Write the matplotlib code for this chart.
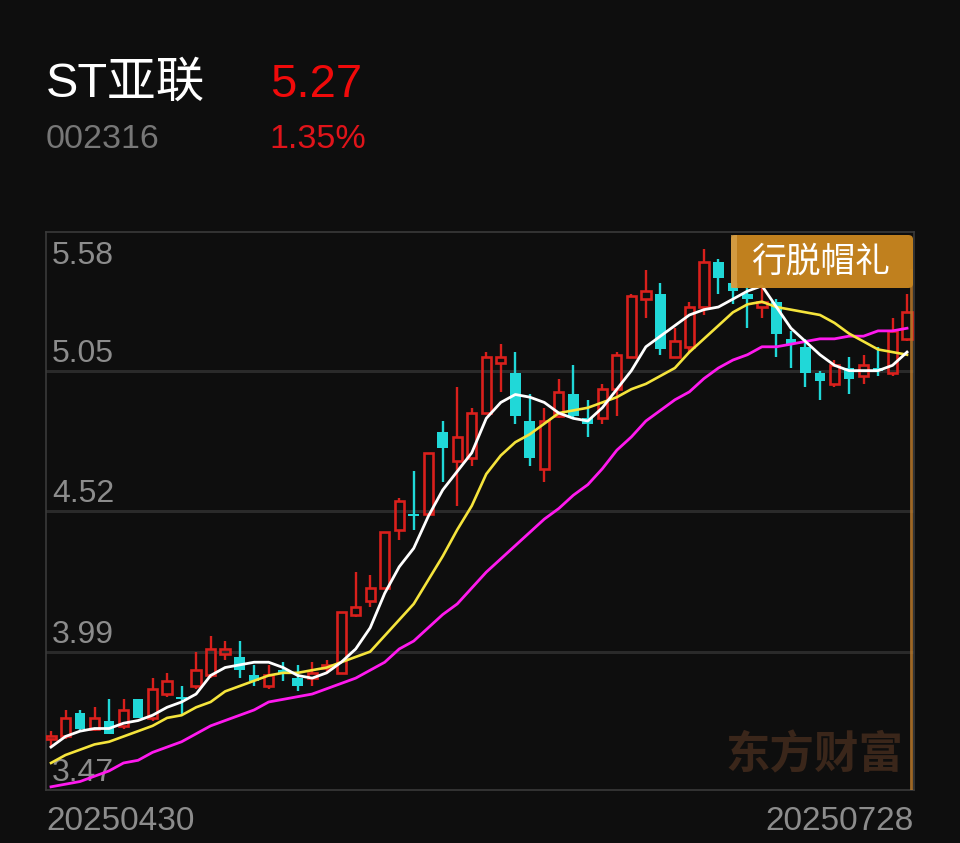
import matplotlib.pyplot as plt
from matplotlib.patches import FancyBboxPatch, Rectangle

name = "ST亚联"
code = "002316"
last_price = "5.27"
pct_change = "1.35%"
tag = "行脱帽礼"
watermark = "东方财富"
start_date = "20250430"
end_date = "20250728"
y_labels = ["5.58", "5.05", "4.52", "3.99", "3.47"]
grid_levels = [5.05, 4.52, 3.99]

# daily candles 2025-04-30 .. 2025-07-28
opens = [3.66, 3.67, 3.76, 3.70, 3.73, 3.71, 3.81, 3.74, 3.83, 3.82,
         3.86, 3.90, 3.98, 3.97, 3.90, 3.86, 3.92, 3.89, 3.89, 3.93,
         3.91, 4.13, 4.18, 4.23, 4.45, 4.51, 4.51, 4.82, 4.71, 4.72,
         4.89, 5.08, 5.04, 4.86, 4.68, 4.88, 4.96, 4.87, 4.87, 4.98,
         5.10, 5.32, 5.34, 5.10, 5.14, 5.29, 5.46, 5.38, 5.34, 5.29,
         5.31, 5.17, 5.14, 5.04, 5.00, 5.06, 5.03, 5.06, 5.04, 5.17]
highs = [3.69, 3.77, 3.77, 3.78, 3.81, 3.81, 3.81, 3.89, 3.91, 3.86,
         3.99, 4.05, 4.03, 4.03, 3.94, 3.94, 3.95, 3.94, 3.95, 3.96,
         4.14, 4.29, 4.28, 4.44, 4.57, 4.67, 4.74, 4.86, 4.99, 4.91,
         5.12, 5.15, 5.12, 4.96, 4.91, 5.02, 5.07, 4.94, 5.00, 5.12,
         5.34, 5.43, 5.38, 5.21, 5.31, 5.51, 5.47, 5.43, 5.37, 5.37,
         5.32, 5.20, 5.17, 5.05, 5.09, 5.10, 5.11, 5.14, 5.25, 5.34]
lows = [3.63, 3.66, 3.69, 3.69, 3.68, 3.70, 3.74, 3.73, 3.82, 3.75,
        3.85, 3.89, 3.96, 3.89, 3.86, 3.85, 3.88, 3.84, 3.86, 3.91,
        3.91, 4.12, 4.16, 4.23, 4.41, 4.45, 4.51, 4.63, 4.54, 4.69,
        4.89, 4.97, 4.85, 4.69, 4.63, 4.87, 4.87, 4.80, 4.85, 4.88,
        5.10, 5.25, 5.11, 5.10, 5.12, 5.26, 5.34, 5.30, 5.21, 5.25,
        5.10, 5.06, 4.99, 4.94, 4.99, 4.96, 5.00, 5.03, 5.03, 5.16]
closes = [3.67, 3.74, 3.70, 3.74, 3.68, 3.77, 3.74, 3.85, 3.88, 3.81,
          3.92, 4.00, 4.00, 3.92, 3.88, 3.90, 3.91, 3.86, 3.91, 3.94,
          4.14, 4.16, 4.23, 4.44, 4.56, 4.50, 4.74, 4.76, 4.80, 4.89,
          5.10, 5.10, 4.88, 4.72, 4.86, 4.97, 4.88, 4.85, 4.98, 5.11,
          5.33, 5.35, 5.13, 5.16, 5.29, 5.46, 5.40, 5.35, 5.32, 5.31,
          5.19, 5.15, 5.04, 5.01, 5.07, 5.02, 5.07, 5.05, 5.20, 5.27]

# moving averages
ma5 = [3.63, 3.67, 3.69, 3.70, 3.70, 3.72, 3.73, 3.75, 3.78, 3.80,
       3.83, 3.90, 3.93, 3.94, 3.95, 3.95, 3.93, 3.90, 3.89, 3.91,
       3.95, 4.00, 4.08, 4.21, 4.31, 4.38, 4.50, 4.60, 4.67, 4.74,
       4.87, 4.93, 4.96, 4.95, 4.93, 4.89, 4.87, 4.86, 4.91, 4.98,
       5.05, 5.14, 5.18, 5.22, 5.26, 5.28, 5.29, 5.32, 5.35, 5.37,
       5.29, 5.21, 5.16, 5.11, 5.07, 5.05, 5.05, 5.05, 5.07, 5.12]
ma10 = [3.57, 3.60, 3.62, 3.64, 3.65, 3.67, 3.69, 3.71, 3.74, 3.75,
        3.78, 3.80, 3.84, 3.86, 3.88, 3.90, 3.91, 3.91, 3.92, 3.93,
        3.95, 3.97, 3.99, 4.05, 4.11, 4.17, 4.26, 4.35, 4.45, 4.54,
        4.66, 4.73, 4.78, 4.81, 4.85, 4.89, 4.90, 4.91, 4.93, 4.95,
        4.98, 5.00, 5.03, 5.06, 5.12, 5.17, 5.22, 5.27, 5.30, 5.31,
        5.29, 5.28, 5.27, 5.26, 5.23, 5.19, 5.16, 5.13, 5.12, 5.11]
ma20 = [3.48, 3.49, 3.50, 3.52, 3.54, 3.57, 3.58, 3.61, 3.63, 3.65,
        3.68, 3.71, 3.73, 3.75, 3.77, 3.80, 3.81, 3.82, 3.83, 3.85,
        3.87, 3.89, 3.92, 3.95, 4.00, 4.03, 4.08, 4.13, 4.17, 4.23,
        4.29, 4.34, 4.39, 4.44, 4.49, 4.53, 4.58, 4.62, 4.68, 4.75,
        4.80, 4.86, 4.90, 4.94, 4.97, 5.02, 5.06, 5.09, 5.11, 5.14,
        5.14, 5.15, 5.16, 5.17, 5.17, 5.18, 5.18, 5.20, 5.20, 5.21]

BG = "#0e0e0e"
UP = "#d9201c"
DOWN = "#20d8d8"
W, H = 960, 843

plt.rcParams['font.family'] = ['Liberation Sans', 'Noto Sans CJK SC', 'DejaVu Sans']


def fx(x):
    return x / W


def fy(y):
    return 1 - y / H


fig = plt.figure(figsize=(9.6, 8.43), dpi=100, facecolor=BG)
ax = fig.add_axes([fx(46), fy(790), (914 - 46) / W, (790 - 232) / H])
ax.set_facecolor(BG)
ax.set_xlim(-0.345, 59.48)
ax.set_ylim(3.468, 5.573)
ax.set_xticks([])
ax.set_yticks([])
for s in ax.spines.values():
    s.set_color("#3a3a3a")
    s.set_linewidth(1.2)

for g in grid_levels:
    ax.axhline(g, color="#2a2a2a", lw=2.2, zorder=1)

# candles
bw = 0.64
for i in range(len(closes)):
    o, h, l, c = opens[i], highs[i], lows[i], closes[i]
    top, bot = max(o, c), min(o, c)
    if c >= o:
        ax.vlines(i, top, h, color=UP, lw=1.7, zorder=2)
        ax.vlines(i, l, bot, color=UP, lw=1.7, zorder=2)
        ax.bar(i, max(top - bot, 0.002), bottom=bot, width=bw, facecolor="none",
               edgecolor=UP, lw=1.9, zorder=3)
    else:
        ax.vlines(i, l, h, color=DOWN, lw=1.7, zorder=2)
        ax.bar(i, max(top - bot, 0.004), bottom=bot, width=bw + 0.1, color=DOWN,
               lw=0, zorder=3)

xs = list(range(len(closes)))
ax.plot(xs, ma20, color="#ff19ee", lw=2.0, zorder=4)
ax.plot(xs, ma10, color="#f5e43c", lw=1.9, zorder=5)
ax.plot(xs, ma5, color="#ffffff", lw=2.0, zorder=6)

# y labels inside the plot
lab_style = dict(color="#8c8c8c", fontsize=23, transform=ax.transAxes)
ax.text(6 / 868, 1 - 9 / 558, y_labels[0], va="top", ha="left", **lab_style)
for lab, g in zip(y_labels[1:4], grid_levels):
    ax.annotate(lab, (6 / 868, g), xycoords=("axes fraction", "data"),
                xytext=(0, 1.5), textcoords="offset points",
                va="bottom", ha="left", color="#8c8c8c", fontsize=23)
ax.text(6 / 868, 2 / 558, y_labels[4], va="bottom", ha="left", **lab_style)

# watermark
ax.text((814 - 46) / 868, 1 - (755 - 232) / 558, watermark,
        transform=ax.transAxes, ha="center", va="center", fontsize=32,
        fontweight="bold", color="#3a261a", family=["Noto Sans CJK SC"], zorder=1)

# tag box and marker line
ax.plot([59.3, 59.3], [3.468, 5.43], color="#b8782a", lw=2, alpha=0.85, zorder=7)
box = FancyBboxPatch((fx(731), fy(288)), (913 - 731) / W, (288 - 235) / H,
                     boxstyle="round,pad=0,rounding_size=0.005",
                     transform=fig.transFigure, facecolor="#c8861f",
                     edgecolor="none", alpha=0.96, zorder=10)
fig.patches.append(box)
fig.patches.append(Rectangle((fx(731), fy(288)), 6 / W, (288 - 235) / H,
                             transform=fig.transFigure, facecolor="#d9a24a",
                             edgecolor="none", alpha=0.8, zorder=11))
fig.text(fx(821), fy(262), tag, ha="center", va="center", fontsize=25,
         color="white", family=["Noto Sans CJK SC"], zorder=12)

# header
fig.text(fx(46), fy(97), name, fontsize=35, color="white", va="baseline", ha="left")
fig.text(fx(270), fy(97), last_price, fontsize=34, color="#f00a0a", va="baseline", ha="left")
fig.text(fx(46), fy(148), code, fontsize=24.5, color="#777777", va="baseline", ha="left")
fig.text(fx(269), fy(148), pct_change, fontsize=24.5, color="#e0141a", va="baseline", ha="left")

# dates
fig.text(fx(46), fy(830), start_date, fontsize=24, color="#8c8c8c", va="baseline", ha="left")
fig.text(fx(914), fy(830), end_date, fontsize=24, color="#8c8c8c", va="baseline", ha="right")

fig.savefig("out.png", dpi=100, facecolor=BG)
